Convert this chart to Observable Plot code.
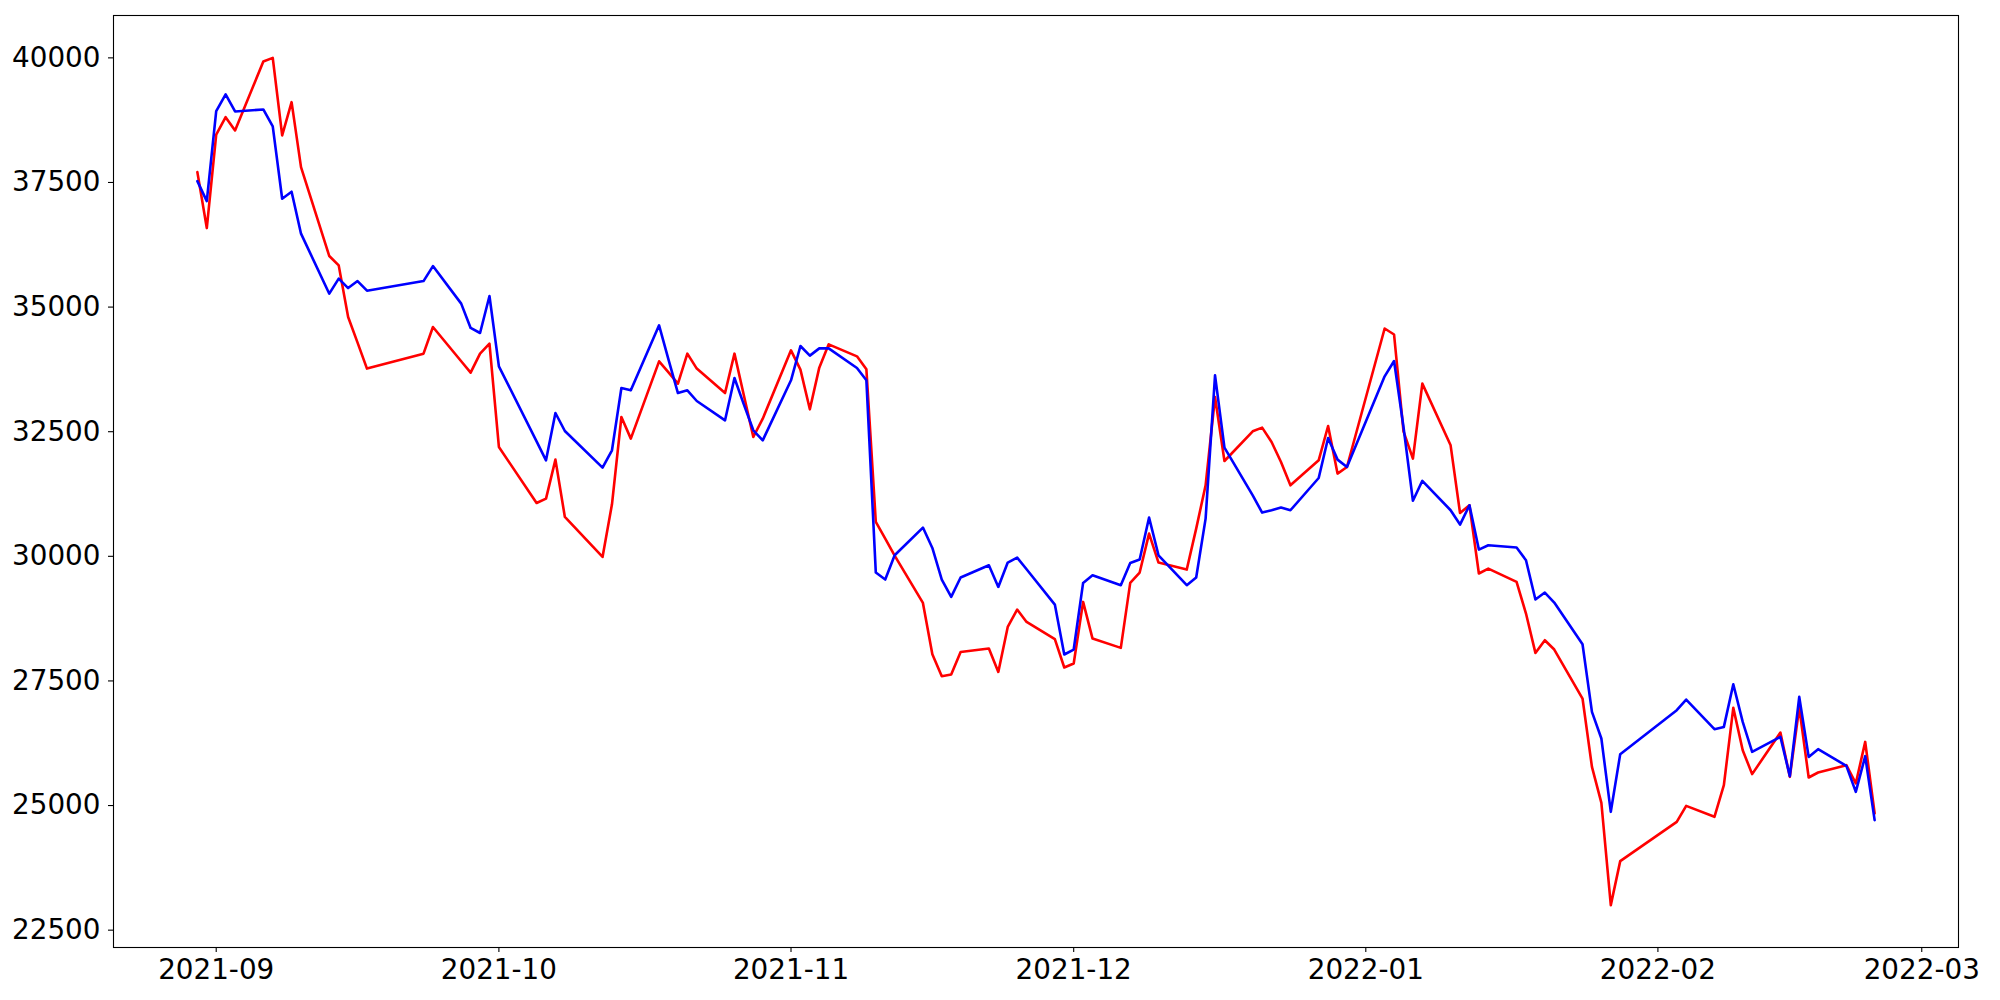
<!DOCTYPE html>
<html>
<head>
<meta charset="utf-8">
<script src="https://cdn.jsdelivr.net/npm/d3@7"></script>
<script src="https://cdn.jsdelivr.net/npm/@observablehq/plot@0.6"></script>
<style>
  html, body { margin: 0; padding: 0; background: #ffffff; }
  #chart { width: 2000px; height: 1000px; }
</style>
</head>
<body>
<div id="chart"></div>
<script>
const dates = [
  "2021-08-30","2021-08-31",
  "2021-09-01","2021-09-02","2021-09-03","2021-09-06","2021-09-07","2021-09-08","2021-09-09","2021-09-10",
  "2021-09-13","2021-09-14","2021-09-15","2021-09-16","2021-09-17","2021-09-23","2021-09-24",
  "2021-09-27","2021-09-28","2021-09-29","2021-09-30",
  "2021-10-01","2021-10-05","2021-10-06","2021-10-07","2021-10-08","2021-10-12","2021-10-13","2021-10-14","2021-10-15",
  "2021-10-18","2021-10-19","2021-10-20","2021-10-21","2021-10-22","2021-10-25","2021-10-26","2021-10-27","2021-10-28","2021-10-29",
  "2021-11-01","2021-11-02","2021-11-03","2021-11-04","2021-11-05","2021-11-08","2021-11-09","2021-11-10","2021-11-11","2021-11-12",
  "2021-11-15","2021-11-16","2021-11-17","2021-11-18","2021-11-19","2021-11-22","2021-11-23","2021-11-24","2021-11-25","2021-11-26",
  "2021-11-29","2021-11-30",
  "2021-12-01","2021-12-02","2021-12-03","2021-12-06","2021-12-07","2021-12-08","2021-12-09","2021-12-10",
  "2021-12-13","2021-12-14","2021-12-15","2021-12-16","2021-12-17","2021-12-20","2021-12-21","2021-12-22","2021-12-23","2021-12-24",
  "2021-12-27","2021-12-28","2021-12-29","2021-12-30",
  "2022-01-03","2022-01-04","2022-01-05","2022-01-06","2022-01-07","2022-01-10","2022-01-11","2022-01-12","2022-01-13","2022-01-14",
  "2022-01-17","2022-01-18","2022-01-19","2022-01-20","2022-01-21","2022-01-24","2022-01-25","2022-01-26","2022-01-27","2022-01-28",
  "2022-02-03","2022-02-04","2022-02-07","2022-02-08","2022-02-09","2022-02-10","2022-02-11",
  "2022-02-14","2022-02-15","2022-02-16","2022-02-17","2022-02-18","2022-02-21","2022-02-22","2022-02-23","2022-02-24"
];

const redValues = [
  37708, 36585,
  38458, 38811, 38544, 39928, 40000, 38444, 39112, 37808,
  36024, 35837, 34800, 34287, 33766, 34066, 34600,
  33913, 33685, 34066, 34267,
  32194, 31070, 31158, 31940, 30790, 29987, 31044, 32795, 32361,
  33912, 33691, 33464, 34066, 33766, 33276, 34066, 33225, 32394, 32762,
  34132, 33745, 32949, 33785, 34253, 34012, 33751, 30689, 30356, 30015,
  29065, 28036, 27595, 27628, 28082, 28150, 27681, 28583, 28932, 28684,
  28337, 27769,
  27849, 29085, 28350, 28163, 29466, 29674, 30456, 29875,
  29734, 30556, 31425, 33196, 31912, 32508, 32582, 32294, 31892, 31425,
  31926, 32614, 31660, 31792,
  34570, 34450, 32508, 31960, 33464, 32227, 30870, 31024, 29655, 29754,
  29486, 28852, 28062, 28317, 28130, 27147, 25776, 25054, 23002, 23885,
  24673, 24994, 24774, 25409, 26959, 26111, 25630,
  26465, 25576, 26967, 25563, 25663, 25810, 25443, 26277, 24841
];

const blueValues = [
  37527, 37126,
  38931, 39266, 38925, 38965, 38624, 37174, 37315, 36473,
  35269, 35570, 35382, 35522, 35329, 35522, 35823,
  35069, 34581, 34480, 35222,
  33812, 32307, 31926, 32875, 32514, 31780, 32127, 33376, 33330,
  34634, 33946, 33276, 33330, 33116, 32728, 33577, 33043, 32528, 32327,
  33531, 34219, 34026, 34172, 34172, 33778, 33531, 29674, 29534, 30021,
  30577, 30168, 29534, 29185, 29574, 29821, 29386, 29875, 29975, 29741,
  29032, 28030,
  28130, 29466, 29620, 29420, 29867, 29935, 30777, 30021,
  29420, 29574, 30757, 33631, 32181, 31221, 30877, 30924, 30978, 30924,
  31571, 32374, 31940, 31792,
  33611, 33918, 32595, 31114, 31515, 30924, 30637, 31024, 30135, 30222,
  30176, 29921, 29133, 29273, 29073, 28236, 26879, 26345, 24874, 26031,
  26913, 27127, 26532, 26578, 27434, 26678, 26077,
  26378, 25590, 27180, 25976, 26131, 25796, 25275, 25990, 24707
];

const yTicks = [22500, 25000, 27500, 30000, 32500, 35000, 37500, 40000];

const parse = d3.utcParse("%Y-%m-%d");
const rows = dates.map((d, i) => ({date: parse(d), red: redValues[i], blue: blueValues[i]}));

// matplotlib-style 5% margins around the data
const [x0, x1] = d3.extent(rows, d => d.date);
const xPad = (x1 - x0) * 0.05;
const yMin = d3.min(rows, d => Math.min(d.red, d.blue));
const yMax = d3.max(rows, d => Math.max(d.red, d.blue));
const yPad = (yMax - yMin) * 0.05;

const fs = 27.8;

const chart = Plot.plot({
  width: 2000,
  height: 1000,
  marginLeft: 113,
  marginRight: 42,
  marginTop: 15,
  marginBottom: 53,
  style: {fontFamily: "'DejaVu Sans', sans-serif", fontSize: fs + "px", background: "#ffffff", color: "#000000", overflow: "visible"},
  x: {type: "utc", domain: [new Date(+x0 - xPad), new Date(+x1 + xPad)]},
  y: {domain: [yMin - yPad, yMax + yPad]},
  marks: [
    Plot.line(rows, {x: "date", y: "red", stroke: "#ff0000", strokeWidth: 2.6}),
    Plot.line(rows, {x: "date", y: "blue", stroke: "#0000ff", strokeWidth: 2.6}),
    Plot.frame({stroke: "#000000", strokeWidth: 1.1}),
    Plot.axisX({ticks: d3.utcMonth.every(1), tickFormat: d3.utcFormat("%Y-%m"), tickSize: 5, tickPadding: 6.5, fontSize: fs, label: null, strokeWidth: 1.1}),
    Plot.axisY({ticks: yTicks, tickFormat: d3.format("d"), tickSize: 5, tickPadding: 8, fontSize: fs, label: null, strokeWidth: 1.1})
  ]
});

document.getElementById("chart").appendChild(chart);
</script>
</body>
</html>
